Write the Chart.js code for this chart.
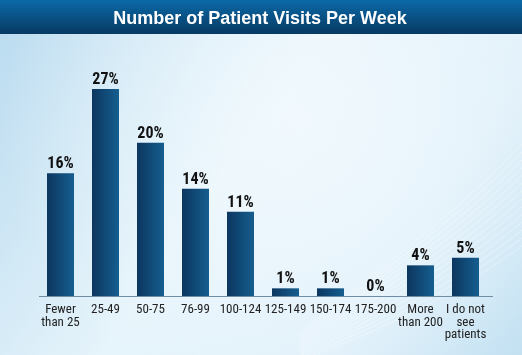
<!DOCTYPE html>
<html>
<head>
<meta charset="utf-8">
<script src="https://cdn.jsdelivr.net/npm/chart.js@4/dist/chart.umd.min.js"></script>
<style>
html,body{margin:0;padding:0;background:#d6ecf8;}
#wrap{width:522px;height:355px;position:relative;}
</style>
</head>
<body>
<div id="wrap"><canvas id="c" width="522" height="355"></canvas></div>
<script>
const title = "Number of Patient Visits Per Week";
const categories = [["Fewer","than 25"],"25-49","50-75","76-99","100-124","125-149","150-174","175-200",["More","than 200"],["I do not","see","patients"]];
const percentValues = [16, 27, 20, 14, 11, 1, 1, 0, 4, 5];

const NARROW = '"Liberation Sans Narrow","Arial Narrow","Roboto Condensed","DejaVu Sans Condensed",sans-serif';

const bgPlugin = {
  id: 'bg',
  beforeDraw(chart) {
    const ctx = chart.ctx, w = chart.width, h = chart.height;
    ctx.save();
    let g = ctx.createLinearGradient(0, 0, w, h);
    g.addColorStop(0, '#b8daef');
    g.addColorStop(0.45, '#e6f4fb');
    g.addColorStop(0.75, '#e0f0fa');
    g.addColorStop(1, '#c3e1f2');
    ctx.fillStyle = g;
    ctx.fillRect(0, 0, w, h);
    let r = ctx.createRadialGradient(300, 120, 10, 300, 120, 300);
    r.addColorStop(0, 'rgba(245,251,254,0.7)');
    r.addColorStop(1, 'rgba(245,251,254,0)');
    ctx.fillStyle = r;
    ctx.fillRect(0, 0, w, h);
    ctx.strokeStyle = 'rgba(255,255,255,0.35)';
    ctx.lineWidth = 1;
    for (let i = 0; i < 14; i++) {
      ctx.beginPath();
      ctx.moveTo(300, 360 - i * 2);
      ctx.bezierCurveTo(380, 330 - i * 5, 450, 300 - i * 6, 530, 240 - i * 8);
      ctx.stroke();
    }
    let tg = ctx.createLinearGradient(0, 0, 0, 34);
    tg.addColorStop(0, '#0b69a7');
    tg.addColorStop(1, '#073a63');
    ctx.fillStyle = tg;
    ctx.fillRect(0, 0, w, 34);
    ctx.fillStyle = '#ffffff';
    ctx.font = 'bold 18px "Liberation Sans", Arial, sans-serif';
    ctx.textAlign = 'center';
    ctx.textBaseline = 'middle';
    ctx.fillText(title, 260, 19);
    ctx.restore();
  },
  afterDatasetsDraw(chart) {
    const ctx = chart.ctx;
    const area = chart.chartArea;
    ctx.save();
    ctx.strokeStyle = '#6f8ea4';
    ctx.lineWidth = 1;
    ctx.beginPath();
    ctx.moveTo(39, Math.round(area.bottom) + 0.5);
    ctx.lineTo(493, Math.round(area.bottom) + 0.5);
    ctx.stroke();
    const meta = chart.getDatasetMeta(0);
    ctx.fillStyle = '#111111';
    ctx.font = 'bold 16px ' + NARROW;
    ctx.textAlign = 'center';
    ctx.textBaseline = 'alphabetic';
    meta.data.forEach((bar, i) => {
      ctx.fillText(percentValues[i] + '%', bar.x, bar.y - 5);
    });
    ctx.restore();
  }
};

new Chart(document.getElementById('c'), {
  type: 'bar',
  data: {
    labels: categories,
    datasets: [{
      data: percentValues,
      backgroundColor(ctx) {
        const chart = ctx.chart;
        const xs = chart.scales && chart.scales.x;
        if (!chart.chartArea || !xs) return '#124d7c';
        const x = xs.getPixelForValue(ctx.dataIndex);
        if (!isFinite(x)) return '#124d7c';
        const hw = 13.5;
        const g = chart.ctx.createLinearGradient(x - hw, 0, x + hw, 0);
        g.addColorStop(0, '#0c365f');
        g.addColorStop(1, '#155e8f');
        return g;
      },
      borderWidth: 0,
      barPercentage: 0.6,
      categoryPercentage: 1.0
    }]
  },
  options: {
    responsive: false,
    animation: false,
    layout: { padding: { left: 38, right: 34, top: 66, bottom: 0 } },
    plugins: { legend: { display: false }, tooltip: { enabled: false } },
    scales: {
      x: {
        grid: { display: false, drawTicks: false },
        border: { display: false },
        ticks: {
          color: '#222222',
          font: { family: NARROW, size: 13, lineHeight: 0.95 },
          padding: 8,
          maxRotation: 0,
          autoSkip: false
        },
        afterFit(scale) { scale.height = 59; }
      },
      y: {
        display: false,
        min: 0,
        max: 30
      }
    }
  },
  plugins: [bgPlugin]
});
</script>
</body>
</html>
